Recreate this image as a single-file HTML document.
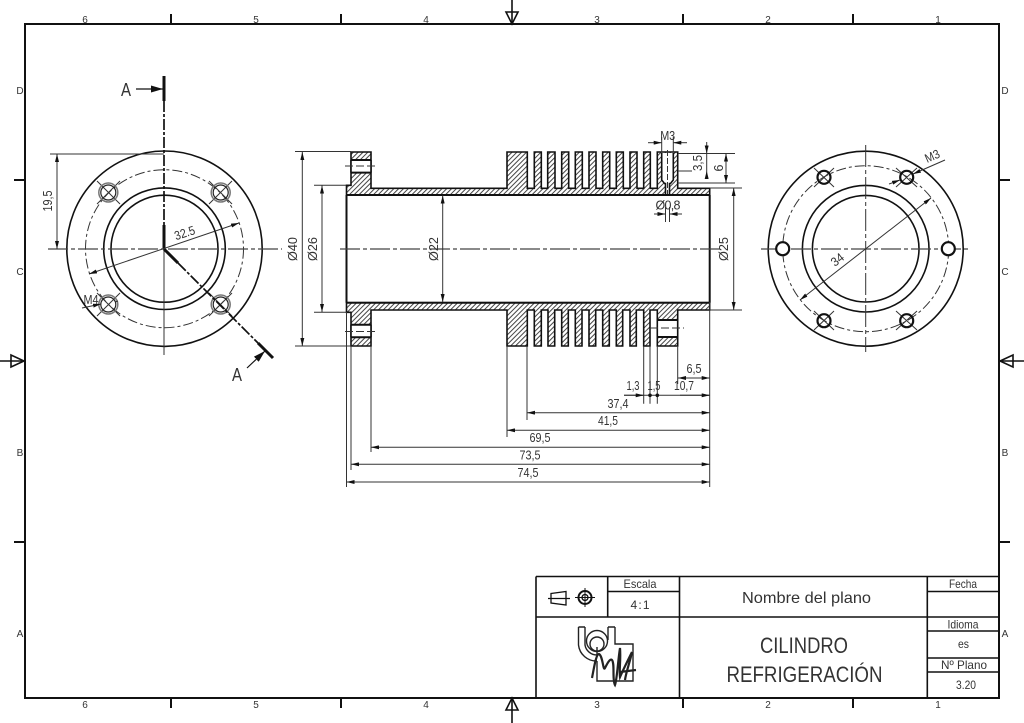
<!DOCTYPE html>
<html><head><meta charset="utf-8"><style>
html,body{margin:0;padding:0;background:#fff}
svg{display:block}
text{font-family:"Liberation Sans",sans-serif;fill:#333;text-anchor:middle}
.t{stroke:#111;stroke-width:2;fill:none}
.tb{stroke:#111;stroke-width:1.6;fill:none}
.m{stroke:#111;stroke-width:1.6;fill:none}
.n{stroke:#333;stroke-width:1;fill:none}
.c{stroke:#444;stroke-width:1.2;fill:none;stroke-dasharray:20 3 4 3}
.d{font-size:12.5px}
.b{font-size:10px;fill:#444}
</style></head><body>
<svg width="1024" height="723" viewBox="0 0 1024 723" xmlns="http://www.w3.org/2000/svg">
<defs>
<pattern id="h" patternUnits="userSpaceOnUse" width="3.4" height="3.4" patternTransform="rotate(45)">
<rect width="3.4" height="3.4" fill="#fff"/><rect width="1" height="3.4" fill="#444"/>
</pattern>
<marker id="a" viewBox="0 0 8 4" refX="8" refY="2" markerWidth="8" markerHeight="4" markerUnits="userSpaceOnUse" orient="auto-start-reverse"><path d="M0 0L8 2L0 4Z" fill="#111"/></marker>
<marker id="A" viewBox="0 0 12 7" refX="12" refY="3.5" markerWidth="12" markerHeight="7" markerUnits="userSpaceOnUse" orient="auto"><path d="M0 0L12 3.5L0 7Z" fill="#111"/></marker>
</defs>
<rect width="1024" height="723" fill="#fff"/>

<!-- frame -->
<rect x="25" y="24" width="974" height="674" class="t"/>
<path class="t" d="M171 14V24M341 14V24M683 14V24M853 14V24M171 698V708M341 698V708M683 698V708M853 698V708M14 180H25M14 542H25M999 180H1010M999 542H1010"/>
<path class="m" d="M512 0V24M512 698V723M0 361H25M999 361H1024"/>
<path class="m" d="M506 12L518 12L512 24ZM506 710L518 710L512 698ZM11 355L11 367L24 361ZM1013 355L1013 367L1000 361Z" fill="#fff"/>
<g class="b">
<text x="85" y="23">6</text><text x="256" y="23">5</text><text x="426" y="23">4</text><text x="597" y="23">3</text><text x="768" y="23">2</text><text x="938" y="23">1</text>
<text x="85" y="708">6</text><text x="256" y="708">5</text><text x="426" y="708">4</text><text x="597" y="708">3</text><text x="768" y="708">2</text><text x="938" y="708">1</text>
<text x="20" y="94">D</text><text x="20" y="275">C</text><text x="20" y="456">B</text><text x="20" y="637">A</text>
<text x="1005" y="94">D</text><text x="1005" y="275">C</text><text x="1005" y="456">B</text><text x="1005" y="637">A</text>
</g>

<!-- left view -->
<g>
<circle cx="164.5" cy="248.7" r="97.7" class="m"/>
<circle cx="164.5" cy="248.7" r="60.8" class="m"/>
<circle cx="164.5" cy="248.7" r="53.5" class="m"/>
<circle cx="164.5" cy="248.7" r="79" class="n" stroke-dasharray="10 3 3 3"/>
<path class="c" d="M48 249H282"/>
<path class="n" d="M164 249V355"/>
<path class="n" d="M97 181L120 204M97 204L120 181M209 181L232 204M209 204L232 181M97 293L120 316M97 316L120 293M209 293L232 316M209 316L232 293"/>
<g fill="none">
<circle cx="108.3" cy="192.5" r="9.5" stroke="#777" stroke-width="1.5"/><circle cx="108.3" cy="192.5" r="7.5" stroke="#222" stroke-width="1.2"/>
<circle cx="220.7" cy="192.5" r="9.5" stroke="#777" stroke-width="1.5"/><circle cx="220.7" cy="192.5" r="7.5" stroke="#222" stroke-width="1.2"/>
<circle cx="108.3" cy="304.5" r="9.5" stroke="#777" stroke-width="1.5"/><circle cx="108.3" cy="304.5" r="7.5" stroke="#222" stroke-width="1.2"/>
<circle cx="220.7" cy="304.5" r="9.5" stroke="#777" stroke-width="1.5"/><circle cx="220.7" cy="304.5" r="7.5" stroke="#222" stroke-width="1.2"/>
</g>
<!-- section line -->
<path stroke="#111" stroke-width="3" fill="none" d="M164 76V101M164 225V249M164 249L178 263M258 343L273 358"/>
<path stroke="#111" stroke-width="1.7" fill="none" stroke-dasharray="11 2 3 2" d="M164 101V225M178 263L258 343"/>
<path stroke="#111" stroke-width="1.2" fill="none" marker-end="url(#A)" d="M136 89H163"/>
<path stroke="#111" stroke-width="1.2" fill="none" marker-end="url(#A)" d="M247 368L265 351"/>
<text x="126" y="96" font-size="18" textLength="10" lengthAdjust="spacingAndGlyphs">A</text>
<text x="237" y="381" font-size="18" textLength="10" lengthAdjust="spacingAndGlyphs">A</text>
<!-- dims -->
<path class="n" d="M50 154H164"/>
<path class="n" marker-start="url(#a)" marker-end="url(#a)" d="M57 154V249"/>
<text class="d" transform="translate(52,201) rotate(-90)" textLength="21" lengthAdjust="spacingAndGlyphs">19,5</text>
<path class="n" marker-start="url(#a)" marker-end="url(#a)" d="M89 274L239 223"/>
<text class="d" transform="translate(186,237) rotate(-18)" textLength="21" lengthAdjust="spacingAndGlyphs">32.5</text>
<path class="n" marker-end="url(#a)" d="M82 308L101 304"/>
<path class="n" d="M115 302L118 301"/>
<text class="d" transform="translate(91,304)" textLength="15" lengthAdjust="spacingAndGlyphs">M4</text>
</g>

<!-- section top -->
<path stroke="#111" stroke-width="1.6" fill="url(#h)" d="M346.5 195V185.3H351V152H371V188.3H507V152H527.3V188.3H534.3V152H541.3V188.3H547.7V152H555V188.3H561.7V152H568.7V188.3H575.3V152H582.3V188.3H589V152H596V188.3H602.7V152H609.7V188.3H616.3V152H623.3V188.3H630V152H637V188.3H643.7V152H650.3V188.3H657.3V152H677.7V188.3H709.7V195Z"/>
<!-- section bottom -->
<path stroke="#111" stroke-width="1.6" fill="url(#h)" d="M346.5 302.7V312.3H351V346H371V310H507V346H527.3V310H534.3V346H541.3V310H548V346H554.7V310H561.7V346H568.3V310H575.3V346H582V310H589V346H595.7V310H602.7V346H609.3V310H616.3V346H622.7V310H630V346H636.3V310H643.7V346H650V310H657.3V346H677.7V310H709.7V302.7Z"/>
<!-- flange holes -->
<rect x="351" y="160" width="20" height="12.6" fill="#fff"/>
<rect x="351" y="325" width="20" height="12" fill="#fff"/>
<rect x="657.3" y="320" width="20.4" height="17" fill="#fff"/>
<path stroke="#111" stroke-width="2" d="M351 160H371M351 172.6H371M351 324.7H371M351 337.3H371M657.3 320H677.7M657.3 337H677.7"/>
<path stroke="#111" stroke-width="1.6" d="M351 160V172.6M371 160V172.6M351 324.7V337.3M371 324.7V337.3M657.3 320V337M677.7 320V337"/>
<path class="n" stroke-dasharray="8 3" d="M345 166H377M345 331.5H377M650 328H684"/>
<!-- threaded hole -->
<path fill="#fff" stroke="#111" stroke-width="1.6" d="M661.7 153V180L664.5 183.5H665.5V195H669.5V183.5H670.5L673.3 180V153"/>
<path class="n" stroke-dasharray="6 2" d="M667.5 150V198"/>
<path class="t" d="M346.5 195H709.7M346.5 302.7H709.7M346.5 195V302.7M709.7 195V302.7"/>
<path class="c" d="M340 249H720"/>

<!-- section dims -->
<path class="n" d="M295 151.5H351M295 346H351M314 185.3H346M314 312.3H346M346.5 312V487M351 346V470M371 346V452M709.7 302V487M507 346V437M527 346V420M643.7 346V403.7M650 346V403.7M657.3 346V403.7M677.7 346V384M678 153.5H735M678 171H692M678 183H735M710 188H742M710 310H742"/>
<g class="n">
<path marker-start="url(#a)" marker-end="url(#a)" d="M302.3 152V346"/>
<path marker-start="url(#a)" marker-end="url(#a)" d="M322 185.5V312"/>
<path marker-start="url(#a)" marker-end="url(#a)" d="M442.7 195.5V302"/>
<path marker-start="url(#a)" marker-end="url(#a)" d="M733.7 188V310"/>
<path marker-start="url(#a)" marker-end="url(#a)" d="M726 153.5V183"/>
<path marker-end="url(#a)" d="M706.7 142V153.5"/><path marker-end="url(#a)" d="M706.7 179V171"/><path d="M706.7 153.5V171"/>
<path marker-end="url(#a)" d="M648 142.7H661.7"/><path marker-end="url(#a)" d="M687 142.7H673.3"/>
<path d="M661.7 137V152M673.3 137V152"/>
<path marker-end="url(#a)" d="M654 214H665.5"/><path marker-end="url(#a)" d="M682 214H669.5"/>
<path d="M665.5 207V222M669.5 207V222"/>
<path marker-start="url(#a)" marker-end="url(#a)" d="M678 378H709.7"/>
<path d="M624 395.3H709.7"/><path marker-end="url(#a)" d="M680 395.3H709.7"/>
<path marker-end="url(#a)" d="M624 395.3H643.7"/>
<path marker-start="url(#a)" marker-end="url(#a)" d="M527 412.7H709.7"/>
<path marker-start="url(#a)" marker-end="url(#a)" d="M507 430.3H709.7"/>
<path marker-start="url(#a)" marker-end="url(#a)" d="M371 447.3H709.7"/>
<path marker-start="url(#a)" marker-end="url(#a)" d="M351 464.3H709.7"/>
<path marker-start="url(#a)" marker-end="url(#a)" d="M346.5 482H709.7"/>
</g>
<circle cx="650" cy="395.3" r="1.8" fill="#111"/><circle cx="657.3" cy="395.3" r="1.8" fill="#111"/>
<g class="d">
<text transform="translate(297,249) rotate(-90)" textLength="24" lengthAdjust="spacingAndGlyphs">Ø40</text>
<text transform="translate(317,249) rotate(-90)" textLength="24" lengthAdjust="spacingAndGlyphs">Ø26</text>
<text transform="translate(438,249) rotate(-90)" textLength="24" lengthAdjust="spacingAndGlyphs">Ø22</text>
<text transform="translate(728,249) rotate(-90)" textLength="24" lengthAdjust="spacingAndGlyphs">Ø25</text>
<text transform="translate(702,163) rotate(-90)" textLength="16" lengthAdjust="spacingAndGlyphs">3,5</text>
<text transform="translate(723,168) rotate(-90)">6</text>
<text x="667.7" y="140" textLength="15" lengthAdjust="spacingAndGlyphs">M3</text>
<text x="668" y="209.5" textLength="25" lengthAdjust="spacing">Ø0,8</text>
<text x="694" y="373" textLength="15" lengthAdjust="spacingAndGlyphs">6,5</text>
<text x="684" y="390" textLength="20" lengthAdjust="spacingAndGlyphs">10,7</text>
<text x="633" y="390" textLength="13" lengthAdjust="spacingAndGlyphs">1,3</text>
<text x="654" y="390" textLength="13" lengthAdjust="spacingAndGlyphs">1,5</text>
<text x="618" y="408" textLength="21" lengthAdjust="spacingAndGlyphs">37,4</text>
<text x="608" y="425" textLength="20" lengthAdjust="spacingAndGlyphs">41,5</text>
<text x="540" y="442" textLength="21" lengthAdjust="spacingAndGlyphs">69,5</text>
<text x="530" y="459.5" textLength="21" lengthAdjust="spacingAndGlyphs">73,5</text>
<text x="528" y="477" textLength="21" lengthAdjust="spacingAndGlyphs">74,5</text>
</g>

<!-- right view -->
<g>
<circle cx="865.7" cy="248.7" r="97.5" class="m"/>
<circle cx="865.7" cy="248.7" r="63.3" class="m"/>
<circle cx="865.7" cy="248.7" r="53.3" class="m"/>
<circle cx="865.7" cy="248.7" r="83" class="n" stroke-dasharray="10 3 3 3"/>
<path class="c" d="M761 249H970"/>
<path class="n" stroke-dasharray="22 3 4 3" d="M865.7 145V352"/>
<path class="n" d="M814 168L834 187M834 168L814 187M896 168L917 187M917 168L896 187M814 311L834 330M834 311L814 330M896 311L917 330M917 311L896 330"/>
<g fill="#fff" stroke="#111" stroke-width="2.2">
<circle cx="782.7" cy="248.7" r="6.5"/><circle cx="948.3" cy="248.7" r="6.5"/>
</g>
<g fill="none" stroke="#111" stroke-width="2.2">
<circle cx="824" cy="177.3" r="6.5"/><circle cx="906.7" cy="177.3" r="6.5"/><circle cx="824" cy="320.7" r="6.5"/><circle cx="906.7" cy="320.7" r="6.5"/>
</g>
<path class="n" marker-end="url(#a)" d="M889 184L900 180"/>
<path class="n" marker-end="url(#a)" d="M945 160L913 174"/>
<text class="d" transform="translate(934,160) rotate(-24)" textLength="15" lengthAdjust="spacingAndGlyphs">M3</text>
<path class="n" marker-start="url(#a)" marker-end="url(#a)" d="M800 300L931 198"/>
<text class="d" transform="translate(840,263) rotate(-38)" textLength="13" lengthAdjust="spacingAndGlyphs">34</text>
</g>

<!-- title block -->
<path fill="#fff" d="M536 576.5H999V698H536Z"/>
<path class="tb" d="M536 576.5H999M536 576.5V698M607.7 576.5V617M679.5 576.5V698M927.3 576.5V698M536 617H999M607.7 591.5H679.5M927.3 591.5H999M927.3 631H999M927.3 658H999M927.3 672H999"/>
<path class="t" d="M25 698H999V24"/>
<g fill="none" stroke="#111" stroke-width="1.3">
<path d="M551 593.5L566 591.5V605L551 603ZM548 598.5H570"/>
<circle cx="585" cy="597.5" r="6.5" stroke-width="2"/><circle cx="585" cy="597.5" r="3"/>
<path d="M575 597.5H595M585 588V607" stroke-width="1"/>
</g>
<text x="640" y="588" font-size="12" textLength="33" lengthAdjust="spacingAndGlyphs">Escala</text>
<text x="640" y="609" font-size="12" textLength="19" lengthAdjust="spacing">4:1</text>
<text x="806.5" y="603" font-size="16" textLength="129" lengthAdjust="spacingAndGlyphs">Nombre del plano</text>
<text x="804" y="653" font-size="22" textLength="88" lengthAdjust="spacingAndGlyphs">CILINDRO</text>
<text x="804.5" y="682" font-size="22" textLength="156" lengthAdjust="spacingAndGlyphs">REFRIGERACIÓN</text>
<text x="963" y="588" font-size="12" textLength="28" lengthAdjust="spacingAndGlyphs">Fecha</text>
<text x="963" y="628.5" font-size="12" textLength="31" lengthAdjust="spacingAndGlyphs">Idioma</text>
<text x="963.5" y="648" font-size="12" textLength="11" lengthAdjust="spacingAndGlyphs">es</text>
<text x="964" y="669" font-size="12" textLength="46" lengthAdjust="spacingAndGlyphs">Nº Plano</text>
<text x="966" y="689" font-size="12" textLength="20" lengthAdjust="spacingAndGlyphs">3.20</text>
<!-- logo -->
<g fill="none" stroke="#222">
<path stroke-width="1.4" d="M578.5 627V645A18 18 0 0 0 597 661M585 627V645A12 12 0 0 0 597 655M578.5 627H585M608 627H615M608 627V640M615 627V644H633V681H597V661M597 655V647"/>
<circle cx="597" cy="641" r="10.5" stroke-width="1.4"/><circle cx="597" cy="644" r="7" stroke-width="1.4"/>
<path stroke-width="2.2" d="M592 678C594 668 596 654 599 654C603 656 603 672 605 668C607 664 610 658 612 660C615 664 612 680 615 685C617 680 618 660 620 648C621 660 619 670 620 677C624 668 629 658 632 652C630 662 626 672 625 680M620 672L636 670"/>
</g>
</svg>
</body></html>
